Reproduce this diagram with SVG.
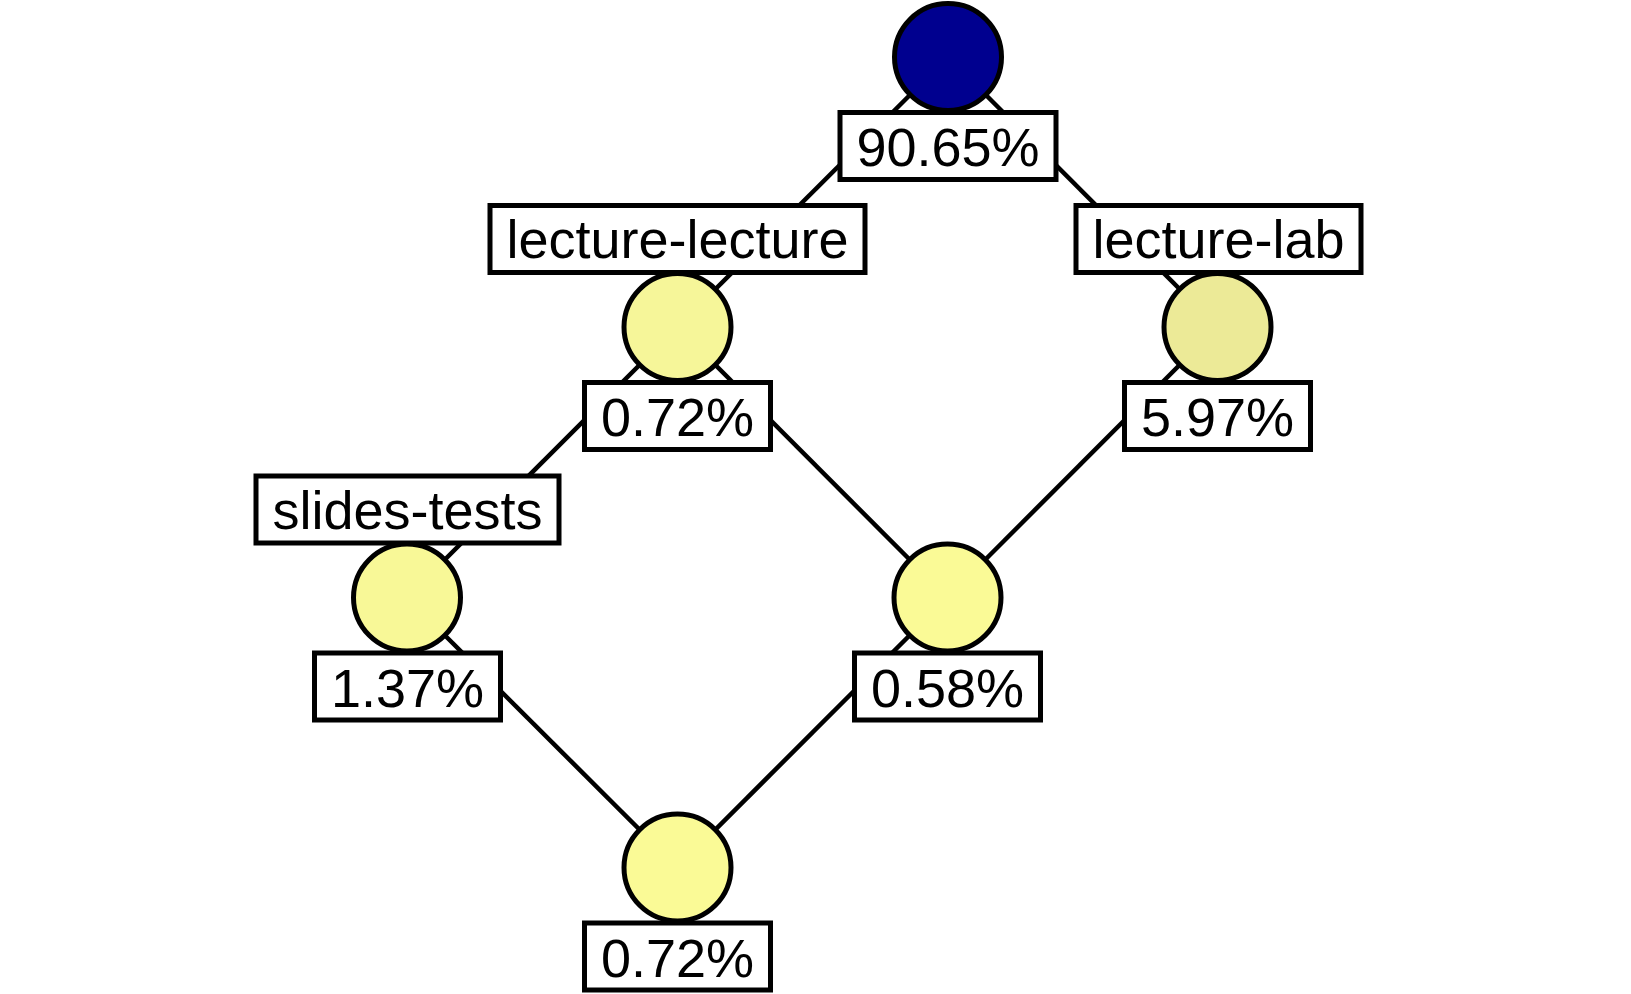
<svg xmlns="http://www.w3.org/2000/svg" width="1631" height="994" viewBox="0 0 1631 994">
<style>
.edge{stroke:#000;stroke-width:4.5;fill:none}
.node{stroke:#000;stroke-width:5}
.box{fill:#fff;stroke:#000;stroke-width:5}
.t{font-family:"Liberation Sans",Arial,sans-serif;font-size:54px;fill:#000;text-anchor:middle}
</style>
<rect width="1631" height="994" fill="#fff"/>
<g id="connectors">
<line class="edge" x1="948" y1="57" x2="677.5" y2="327"/>
<line class="edge" x1="948" y1="57" x2="1217.5" y2="327"/>
<line class="edge" x1="677.5" y1="327" x2="407" y2="597.5"/>
<line class="edge" x1="677.5" y1="327" x2="947.5" y2="597.5"/>
<line class="edge" x1="1217.5" y1="327" x2="947.5" y2="597.5"/>
<line class="edge" x1="407" y1="597.5" x2="677.5" y2="867.5"/>
<line class="edge" x1="947.5" y1="597.5" x2="677.5" y2="867.5"/>
</g>
<g id="n-top">
<circle class="node" cx="948" cy="57" r="53.5" fill="#00008f"/>
<rect class="box" x="840" y="112.5" width="216" height="67"/>
<text class="t" x="948" y="166">90.65%</text>
</g>
<g id="n-lecture-lecture">
<rect class="box" x="490" y="205.5" width="375" height="67"/>
<text class="t" x="677.5" y="258">lecture-lecture</text>
<circle class="node" cx="677.5" cy="327" r="53.5" fill="#f6f699"/>
<rect class="box" x="584.5" y="382.5" width="186" height="67"/>
<text class="t" x="677.5" y="436">0.72%</text>
</g>
<g id="n-lecture-lab">
<rect class="box" x="1076" y="205.5" width="285" height="67"/>
<text class="t" x="1218.5" y="258">lecture-lab</text>
<circle class="node" cx="1217.5" cy="327" r="53.5" fill="#ecea97"/>
<rect class="box" x="1124.5" y="382.5" width="186" height="67"/>
<text class="t" x="1217.5" y="436">5.97%</text>
</g>
<g id="n-slides-tests">
<rect class="box" x="256" y="476" width="303" height="67"/>
<text class="t" x="407.5" y="528.5">slides-tests</text>
<circle class="node" cx="407" cy="597.5" r="53.5" fill="#f8f897"/>
<rect class="box" x="314.5" y="653" width="186" height="67"/>
<text class="t" x="407.5" y="706.5">1.37%</text>
</g>
<g id="n-mid">
<circle class="node" cx="947.5" cy="597.5" r="53.5" fill="#fafa96"/>
<rect class="box" x="854.5" y="653" width="186" height="67"/>
<text class="t" x="947.5" y="706.5">0.58%</text>
</g>
<g id="n-bottom">
<circle class="node" cx="677.5" cy="867.5" r="53.5" fill="#fafa96"/>
<rect class="box" x="584.5" y="923" width="186" height="67"/>
<text class="t" x="677.5" y="976.5">0.72%</text>
</g>
</svg>
